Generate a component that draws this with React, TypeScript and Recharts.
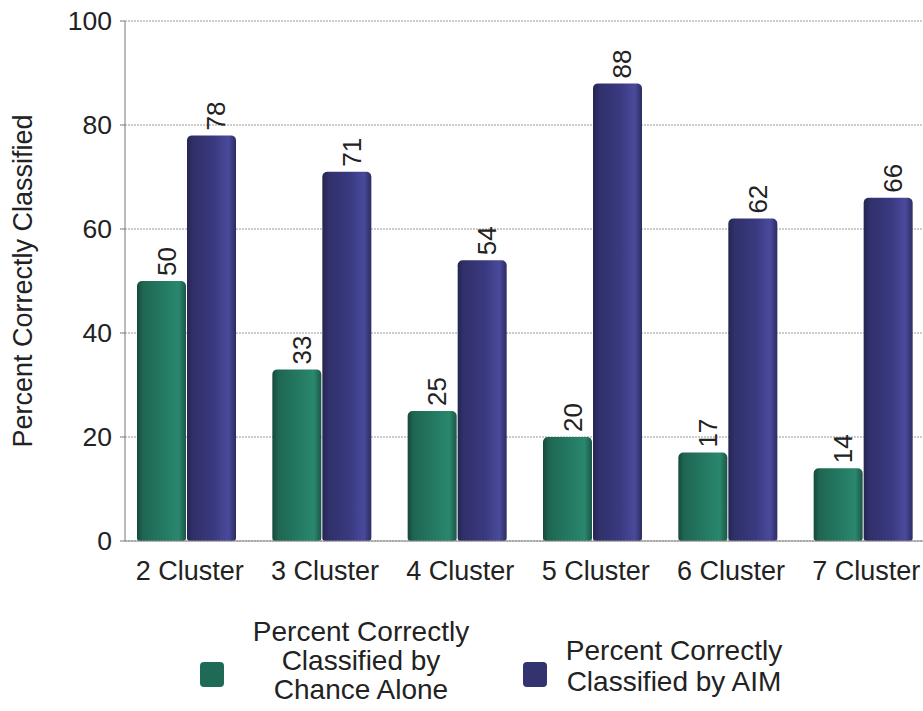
import React from 'react';
import { BarChart, Bar, XAxis, YAxis, CartesianGrid, LabelList } from 'recharts';

const categories = ['2 Cluster', '3 Cluster', '4 Cluster', '5 Cluster', '6 Cluster', '7 Cluster'];
const chanceValues = [50, 33, 25, 20, 17, 14];
const aimValues = [78, 71, 54, 88, 62, 66];
const yTicks = [0, 20, 40, 60, 80, 100];
const seriesNames = ['Percent Correctly Classified by Chance Alone', 'Percent Correctly Classified by AIM'];
const legendLines = [
  ['Percent Correctly', 'Classified by', 'Chance Alone'],
  ['Percent Correctly', 'Classified by AIM'],
];
const yTitle = 'Percent Correctly Classified';

const data = categories.map((c, i) => ({ name: c, chance: chanceValues[i], aim: aimValues[i] }));

const FONT = '"Liberation Sans", Arial, sans-serif';

const RotLabel = (props: any) => {
  const x = Number(props.x);
  const y = Number(props.y);
  const w = Number(props.width);
  const cx = x + w / 2 + 5;
  const cy = y - 5;
  return (
    <text
      x={cx}
      y={cy}
      transform={`rotate(-90 ${cx} ${cy})`}
      textAnchor="start"
      dominantBaseline="central"
      fontSize={26}
      fontFamily={FONT}
      fill="#222"
    >
      {props.value}
    </text>
  );
};

export default function App() {
  return (
    <div style={{ position: 'absolute', left: 0, top: 0, width: 923, height: 711, overflow: 'hidden', background: '#fff', fontFamily: FONT }}>
      <BarChart
        width={931}
        height={711}
        data={data}
        margin={{ top: 21, right: 0, bottom: 130, left: 0 }}
        barGap={1}
        barSize={49}
      >
        <defs>
          <linearGradient id="gGreen" x1="0" y1="0" x2="1" y2="0">
            <stop offset="0%" stopColor="#16483b" />
            <stop offset="12%" stopColor="#1f6652" />
            <stop offset="55%" stopColor="#247a63" />
            <stop offset="85%" stopColor="#2a876e" />
            <stop offset="100%" stopColor="#1b5646" />
          </linearGradient>
          <linearGradient id="gBlue" x1="0" y1="0" x2="1" y2="0">
            <stop offset="0%" stopColor="#252552" />
            <stop offset="12%" stopColor="#30306a" />
            <stop offset="55%" stopColor="#393980" />
            <stop offset="85%" stopColor="#4a4a9c" />
            <stop offset="100%" stopColor="#2c2c62" />
          </linearGradient>
        </defs>
        <CartesianGrid vertical={false} stroke="#999" strokeDasharray="2 1" />
        <XAxis
          dataKey="name"
          height={40}
          padding={{ left: -6, right: 0 }}
          tickLine={false}
          tickSize={0}
          tickMargin={20}
          axisLine={{ stroke: '#888' }}
          tick={{ fontSize: 27, fill: '#222', fontFamily: FONT, dx: 3 }}
          interval={0}
        />
        <YAxis
          width={125}
          domain={[0, 100]}
          ticks={yTicks}
          interval={0}
          tickSize={5}
          tickMargin={8}
          axisLine={{ stroke: '#777' }}
          tickLine={{ stroke: '#777' }}
          tick={{ fontSize: 26.5, fill: '#222', fontFamily: FONT }}
          label={{
            value: yTitle,
            angle: -90,
            position: 'insideLeft',
            offset: 22,
            style: { textAnchor: 'middle', fontSize: 27, fill: '#222', fontFamily: FONT },
          }}
        />
        <Bar dataKey="chance" name={seriesNames[0]} fill="url(#gGreen)" radius={[5, 5, 3, 3]} isAnimationActive={false}>
          <LabelList dataKey="chance" content={RotLabel} />
        </Bar>
        <Bar dataKey="aim" name={seriesNames[1]} fill="url(#gBlue)" radius={[5, 5, 3, 3]} isAnimationActive={false}>
          <LabelList dataKey="aim" content={RotLabel} />
        </Bar>
      </BarChart>
      <div style={{ position: 'absolute', left: 200, top: 662, width: 24, height: 25, borderRadius: 4, background: '#1f6a56' }} />
      <div style={{ position: 'absolute', left: 236, top: 617, width: 250, textAlign: 'center', fontSize: 28, lineHeight: '29px', color: '#222' }}>
        {legendLines[0].map((l, i) => (<div key={i}>{l}</div>))}
      </div>
      <div style={{ position: 'absolute', left: 523, top: 662, width: 24, height: 25, borderRadius: 4, background: '#33336f' }} />
      <div style={{ position: 'absolute', left: 549, top: 635, width: 250, textAlign: 'center', fontSize: 28, lineHeight: '31px', color: '#222' }}>
        {legendLines[1].map((l, i) => (<div key={i}>{l}</div>))}
      </div>
    </div>
  );
}
